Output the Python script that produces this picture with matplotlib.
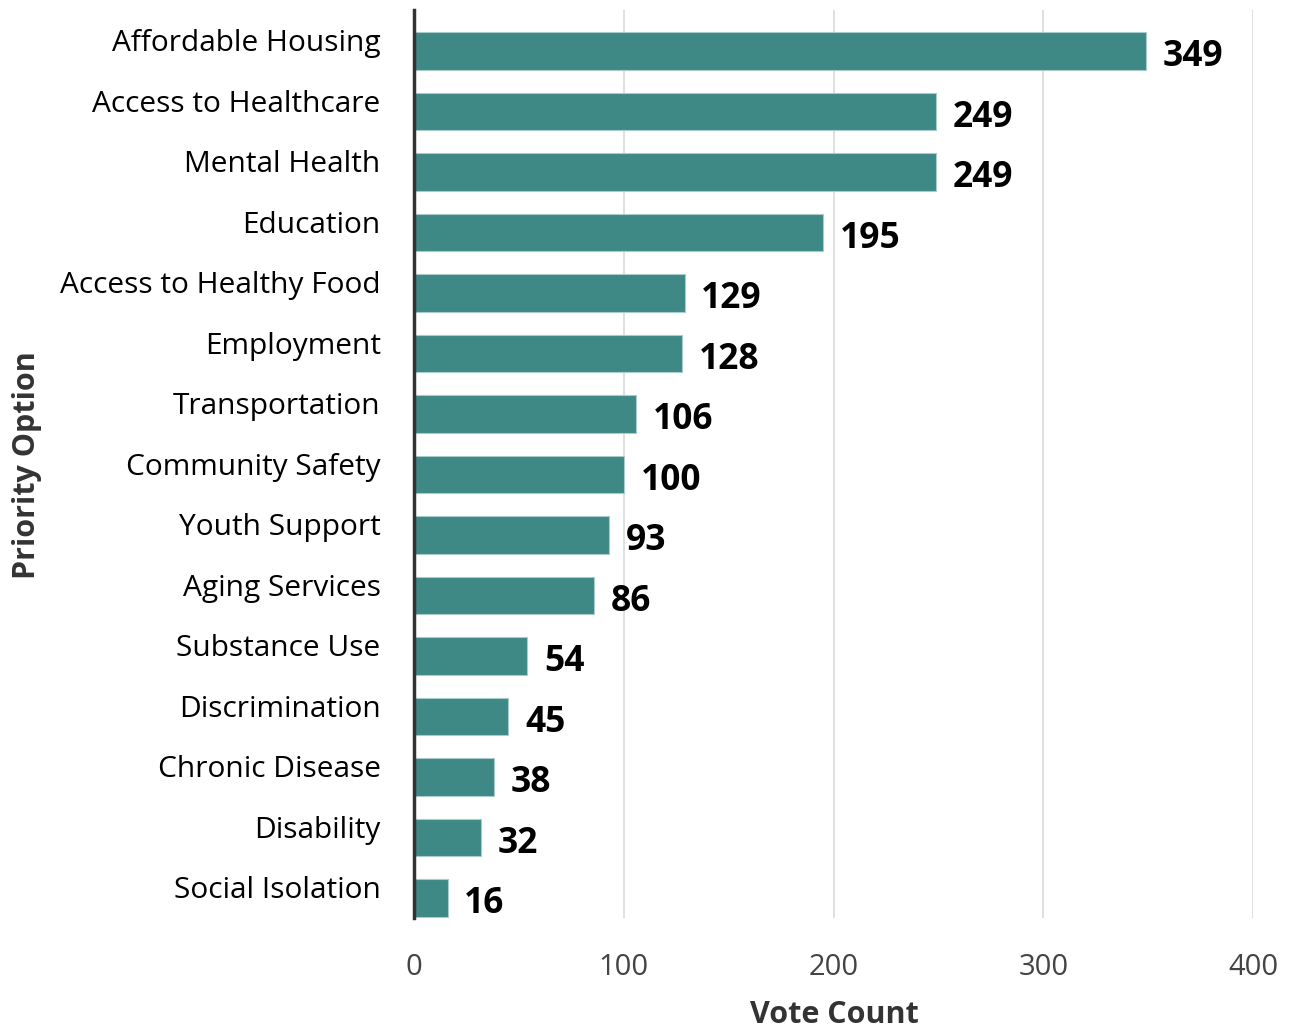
import matplotlib
matplotlib.use("Agg")
import matplotlib.pyplot as plt
import matplotlib.transforms as mtransforms

categories = ["Affordable Housing", "Access to Healthcare", "Mental Health", "Education",
              "Access to Healthy Food", "Employment", "Transportation", "Community Safety",
              "Youth Support", "Aging Services", "Substance Use", "Discrimination",
              "Chronic Disease", "Disability", "Social Isolation"]
votes = [349, 249, 249, 195, 129, 128, 106, 100, 93, 86, 54, 45, 38, 32, 16]
xticks = [0, 100, 200, 300, 400]

plt.rcParams['font.family'] = ['Open Sans', 'DejaVu Sans']

fig = plt.figure(figsize=(12.91, 10.30), dpi=100)
ax = fig.add_axes([414/1291, 1-918/1030, (1253-414)/1291, (918-10)/1030])

ypos = list(range(len(categories)))
ax.barh(ypos, votes, height=0.62, color='#3e8886', edgecolor='#a9cbca', linewidth=0.8, zorder=3)
for y, v in zip(ypos, votes):
    ax.text(v + 8, y + 0.1, str(v), va='center', ha='left', fontsize=25.5,
            fontweight='bold', color='black', zorder=4)

ax.set_xlim(0, 400)
ax.set_ylim(14.33, -0.68)
ax.set_xticks(xticks)
ax.set_xticklabels([str(t) for t in xticks])
ax.set_yticks(ypos)
ax.set_yticklabels(categories)
ax.tick_params(axis='y', length=0, pad=24, labelsize=21.5, labelcolor='black')
ax.tick_params(axis='x', length=0, pad=25, labelsize=21, labelcolor='#444444')
offset = mtransforms.ScaledTranslation(0, 11/100, fig.dpi_scale_trans)
for lbl in ax.get_yticklabels():
    lbl.set_transform(lbl.get_transform() + offset)
ax.grid(axis='x', color='#dddddd', linewidth=1.3, zorder=0)
ax.grid(axis='y', visible=False)
for s in ['top', 'right', 'bottom']:
    ax.spines[s].set_visible(False)
ax.spines['left'].set_color('#333333')
ax.spines['left'].set_linewidth(2.5)
ax.spines['left'].set_zorder(5)

fig.text(834/1291, 1-1015/1030, 'Vote Count', ha='center', va='center',
         fontsize=22, fontweight='bold', color='#333333')
fig.text(27/1291, 1-465/1030, 'Priority Option', rotation=90, ha='center', va='center',
         fontsize=22, fontweight='bold', color='#333333')

fig.savefig('out.png', dpi=100)
